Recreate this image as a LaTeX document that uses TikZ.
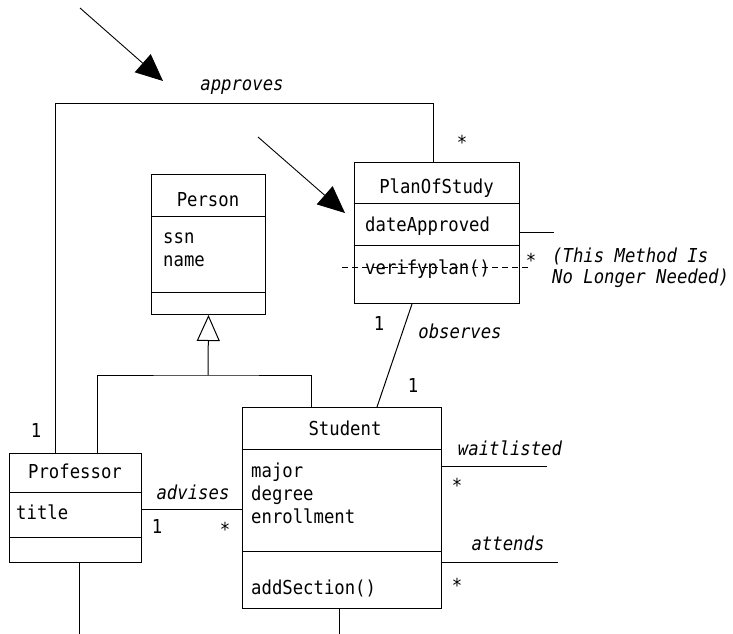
\documentclass[tikz,border=0pt]{standalone}
\usepackage{fontspec}
\setmainfont{DejaVu Sans Mono}[FakeStretch=0.9]
\usetikzlibrary{arrows.meta}
\begin{document}
\begin{tikzpicture}[x=1pt,y=-1pt,
  every node/.style={font=\fontsize{19.2}{24}\selectfont, inner sep=0pt},
  box/.style={draw, line width=1pt, anchor=north west, rectangle},
  ln/.style={line width=1pt},
  lbl/.style={font=\fontsize{19.2}{24}\selectfont\itshape},
  big/.style={line width=0.9pt, -{Triangle[length=27pt,width=24pt]}},
  gen/.style={line width=1pt, -{Triangle[open,length=26pt,width=23pt]}}]
\useasboundingbox (0,0) rectangle (733,634);

% class boxes
\node[box, minimum width=165pt, minimum height=141pt] (plan) at (354,162) {};
\node[box, minimum width=114pt, minimum height=140pt] (person) at (151,174) {};
\node[box, minimum width=132pt, minimum height=109pt] (prof) at (9,453) {};
\node[box, minimum width=199pt, minimum height=201pt] (stud) at (242,407) {};

% compartments
\draw[ln] (plan.west |- 0,203) -- (plan.east |- 0,203);
\draw[ln] (plan.west |- 0,245) -- (plan.east |- 0,245);
\draw[ln] (person.west |- 0,216) -- (person.east |- 0,216);
\draw[ln] (person.west |- 0,292) -- (person.east |- 0,292);
\draw[ln] (prof.west |- 0,492) -- (prof.east |- 0,492);
\draw[ln] (prof.west |- 0,537) -- (prof.east |- 0,537);
\draw[ln] (stud.west |- 0,449) -- (stud.east |- 0,449);
\draw[ln] (stud.west |- 0,551) -- (stud.east |- 0,551);

% texts
\node[anchor=base] (tplan) at (436.5,193) {PlanOfStudy};
\node[anchor=base west] (tdate) at (365,231) {dateApproved};
\node[anchor=base west] (tver) at (365,274) {verifyplan()};
\node[anchor=base] (tperson) at (208,206) {Person};
\node[anchor=base west] (tssn) at (163,243) {ssn};
\node[anchor=base west] (tname) at (163,266) {name};
\node[anchor=base] (tprof) at (75,478) {Professor};
\node[anchor=base west] (ttitle) at (16,519) {title};
\node[anchor=base] (tstud) at (345,435) {Student};
\node[anchor=base west] (tmaj) at (251,477) {major};
\node[anchor=base west] (tdeg) at (251,500) {degree};
\node[anchor=base west] (tenr) at (251,523) {enrollment};
\node[anchor=base west] (tadd) at (251,594) {addSection()};

% dashed strike line
\coordinate (dl) at (342,267);
\coordinate (dr) at (528,267);
\draw[line width=0.9pt, dash pattern=on 6pt off 4pt] (dl) -- (dr);

% approves association
\draw[ln] ([xshift=46pt]prof.north west) -- ++(0,-350) -| ([xshift=79pt]plan.north west);
\node[lbl, anchor=base] (lapp) at (242,90) {approves};
\node (s1) at (462,142) {*};
\node (o1) at (36,430) {1};

% big arrows
\coordinate (a1s) at (80,8);
\coordinate (a1e) at (163,81);
\draw[big] (a1s) -- (a1e);
\coordinate (a2s) at (258,137);
\coordinate (a2e) at (345,213);
\draw[big] (a2s) -- (a2e);

% dateApproved stub and note
\coordinate (dstub) at (554,232);
\draw[ln] (plan.east |- dstub) -- (dstub);
\node (s2) at (531,260) {*};
\node[lbl, anchor=base west] (note) at (552,262) {(This Method Is};
\node[lbl, anchor=base west] (note2) at (552,283) {No Longer Needed)};

% generalization
\coordinate (gj) at (208,375);
\draw[ln] ([xshift=88pt]prof.north west) |- (gj) -| ([xshift=69pt]stud.north west);
\draw[gen] (gj) -- (person.south);

% observes
\draw[ln] ([xshift=58pt]plan.south west) -- ([xshift=135pt]stud.north west);
\node (o2) at (379,323) {1};
\node[lbl] (lobs) at (460,331) {observes};
\node (o3) at (413,385) {1};

% advises
\draw[ln] (prof.east |- 0,509) -- (stud.west |- 0,509);
\node[lbl, anchor=base] (ladv) at (193,499) {advises};
\node (o4) at (157,526) {1};
\node (s3) at (225,529) {*};

% waitlisted
\coordinate (wend) at (547,466);
\draw[ln] (stud.east |- wend) -- (wend);
\node[lbl, anchor=base] (lwait) at (510,455) {waitlisted};
\node (s4) at (457,485) {*};

% attends
\coordinate (aend) at (558,562);
\draw[ln] (stud.east |- aend) -- (aend);
\node[lbl, anchor=base] (latt) at (508,550) {attends};
\node (s5) at (457,585) {*};

% stubs at bottom
\coordinate (pb) at (79,634);
\draw[ln] (prof.south -| pb) -- (pb);
\coordinate (sb) at (339,634);
\draw[ln] (stud.south -| sb) -- (sb);
\end{tikzpicture}
\end{document}
